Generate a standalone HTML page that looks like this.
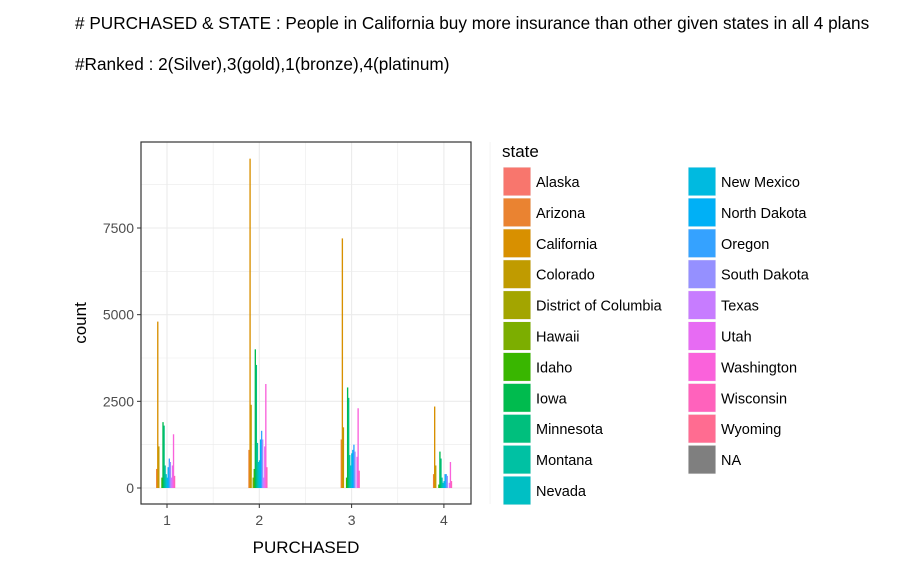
<!DOCTYPE html>
<html><head><meta charset="utf-8"><style>
body{margin:0;background:#fff;width:898px;height:565px;overflow:hidden;font-family:"Liberation Sans",sans-serif}
.hdr{position:absolute;left:75px;font-size:17.2px;color:#000}
</style></head><body>
<div class="hdr" style="top:13px"># PURCHASED &amp; STATE : People in California buy more insurance than other given states in all 4 plans</div>
<div class="hdr" style="top:54px">#Ranked : 2(Silver),3(gold),1(bronze),4(platinum)</div>
<svg id="chart" width="898" height="565" style="position:absolute;left:0;top:0"></svg>
<script>
const categories=["1","2","3","4"];
const states=["Alaska","Arizona","California","Colorado","District of Columbia","Hawaii","Idaho","Iowa","Minnesota","Montana","Nevada","New Mexico","North Dakota","Oregon","South Dakota","Texas","Utah","Washington","Wisconsin","Wyoming","NA"];
const colors=["#F8766D","#EA8331","#D89000","#C09B00","#A3A500","#7CAE00","#39B600","#00BB4E","#00BF7D","#00C1A3","#00BFC4","#00BAE0","#00B0F6","#35A2FF","#9590FF","#C77CFF","#E76BF3","#FA62DB","#FF62BC","#FF6C91","#7F7F7F"];
const plan1=[0,550,4800,1200,0,0,300,1900,1800,650,400,300,600,850,750,300,650,1550,350,0,0];
const plan2=[0,1100,9500,2400,0,300,550,4000,3550,1300,750,800,1400,1650,1400,300,1200,3000,600,0,0];
const plan3=[0,1400,7200,1750,0,0,300,2900,2600,950,650,1000,1100,1250,1050,0,900,2300,500,0,0];
const plan4=[0,400,2350,650,0,0,100,1050,850,300,150,200,400,400,350,0,150,750,200,0,0];
const series=[plan1,plan2,plan3,plan4];
const yTicks=[0,2500,5000,7500];
const NS="http://www.w3.org/2000/svg";
const svg=document.getElementById('chart');
const L=141,R=471,T=142,B=504;
const xScale=i=>167+i*92.3;
const yScale=v=>488-v*260/7500;
function mk(t,a,p){const e=document.createElementNS(NS,t);for(const k in a)e.setAttribute(k,a[k]);(p||svg).appendChild(e);return e;}
const g=mk('g',{});


for(let v=0;v<=9500;v+=1250){const y=yScale(v);if(y<T)break;mk('line',{x1:L,x2:R,y1:y,y2:y,stroke:'#ebebeb','stroke-width':v%2500?0.6:1.1},g);}
for(let i=-0.5;i<4;i+=0.5){const x=xScale(i);if(x<L)continue;mk('line',{x1:x,x2:x,y1:T,y2:B,stroke:'#ebebeb','stroke-width':Number.isInteger(i)?1.1:0.6},g);}
const bw=1.05,n=states.length;
series.forEach((vals,ci)=>{
 const cx=xScale(ci);
 vals.forEach((v,si)=>{
  if(v<=0)return;
  const x=cx-12+si*bw;
  const r=mk('rect',{x:x,y:yScale(v),width:bw+0.3,height:yScale(0)-yScale(v),fill:colors[si]},g);
  
  
 });
});
mk('rect',{x:L,y:T,width:R-L,height:B-T,fill:'none',stroke:'#333','stroke-width':1.2},g);
yTicks.forEach(v=>{const y=yScale(v);mk('line',{x1:L-4,x2:L,y1:y,y2:y,stroke:'#333'});
 const t=mk('text',{x:L-7,y:y+5,'text-anchor':'end','font-size':14,fill:'#4d4d4d'});t.textContent=v;
 
 });
categories.forEach((c,i)=>{const x=xScale(i);mk('line',{x1:x,x2:x,y1:B,y2:B+4,stroke:'#333'});
 const t=mk('text',{x:x,y:B+21,'text-anchor':'middle','font-size':14,fill:'#4d4d4d'});t.textContent=c;
 
 });
let t=mk('text',{x:306,y:553,'text-anchor':'middle','font-size':17,fill:'#000'});t.textContent='PURCHASED';


t=mk('text',{x:0,y:0,'text-anchor':'middle','font-size':17,fill:'#000',transform:'translate(86,323) rotate(-90)'});t.textContent='count';


t=mk('text',{x:502,y:157,'font-size':17,fill:'#000'});t.textContent='state';


states.forEach((s,i)=>{
 const col=i<11?0:1,row=i<11?i:i-11;
 const kx=col?688:503,ky=167+row*30.9;
 const lg=mk('g',{});
 
 
 mk('rect',{x:kx,y:ky,width:28,height:29,fill:'#f2f2f2'},lg);
 mk('rect',{x:kx+0.5,y:ky+0.5,width:27,height:28,fill:colors[i]},lg);
 const tt=mk('text',{x:kx+33,y:ky+20,'font-size':14.5,fill:'#000'},lg);tt.textContent=s;
});
</script>
</body></html>
